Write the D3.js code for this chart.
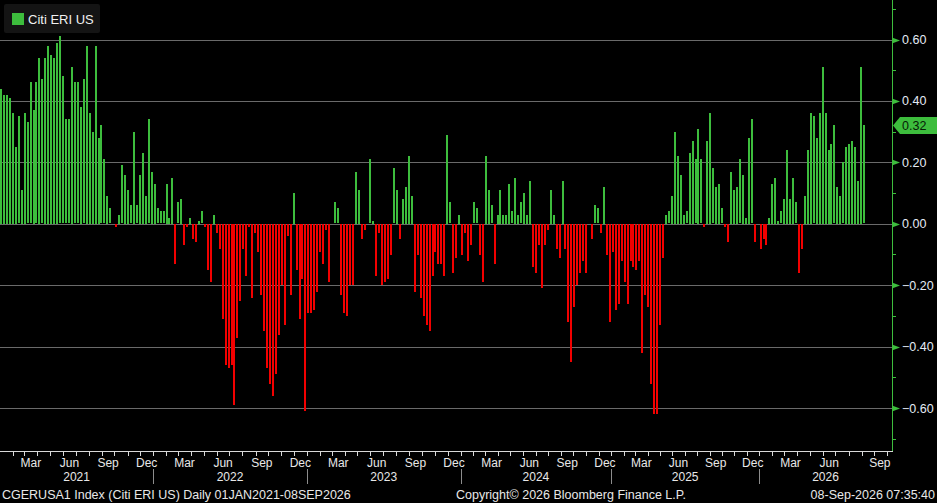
<!DOCTYPE html>
<html>
<head>
<meta charset="utf-8">
<script src="https://cdn.jsdelivr.net/npm/d3@7"></script>
<style>
  body { margin: 0; background: #000; }
  svg text { font-family: "Liberation Sans", Arial, sans-serif; }
</style>
</head>
<body>
<script>

	// Citi Economic Surprise Index US, one reading per week, split by calendar year
	var eri2021 = [0.44, 0.42, 0.42, 0.41, 0.36, 0.25, 0.35, 0.11, 0.36, 0.33, 0.46, 0.37, 0.46,
		0.54, 0.47, 0.54, 0.58, 0.55, 0.54, 0.59, 0.61, 0.48, 0.34, 0.34, 0.51, 0.46, 0.46,
		0.38, 0.47, 0.58, 0.36, 0.30, 0.58, 0.28, 0.32, 0.21, 0.09, 0.05, 0.00, -0.01, 0.03,
		0.19, 0.16, 0.11, 0.06, 0.30, 0.06, 0.16, 0.23, 0.09, 0.34, 0.17];
	var eri2022 = [0.13, 0.05, 0.04, 0.04, 0.13, 0.02, 0.15, -0.13, 0.07, 0.08, -0.07, -0.01, 0.02,
		-0.05, -0.06, 0.01, 0.04, -0.01, -0.15, -0.19, 0.03, -0.03, -0.08, -0.31, -0.46, -0.47,
		-0.46, -0.59, -0.37, -0.25, -0.08, -0.17, -0.01, -0.24, -0.03, -0.09, -0.23, -0.35,
		-0.47, -0.52, -0.56, -0.49, -0.36, -0.20, -0.33, -0.04, -0.23, 0.10, -0.15, -0.31,
		-0.18, -0.61];
	var eri2023 = [-0.29, -0.29, -0.28, -0.22, -0.09, -0.13, -0.02, -0.19, 0.00, 0.07, 0.05, -0.23,
		-0.29, -0.30, -0.20, -0.20, 0.17, 0.11, -0.05, -0.02, 0.00, 0.21, 0.01, -0.17, -0.03,
		-0.20, -0.19, -0.18, -0.10, 0.18, 0.11, -0.05, 0.08, 0.12, 0.22, 0.09, -0.22, -0.10,
		-0.24, -0.30, -0.33, -0.35, -0.17, -0.09, -0.13, -0.13, -0.17, 0.29, 0.07, -0.16,
		-0.11, 0.03];
	var eri2024 = [-0.10, -0.03, -0.12, -0.07, 0.07, 0.05, -0.10, -0.19, 0.22, 0.11, 0.06, -0.13,
		0.03, 0.11, 0.03, 0.03, 0.13, 0.04, 0.15, 0.03, 0.07, 0.10, 0.03, 0.14, -0.14, -0.16,
		-0.07, -0.21, -0.07, -0.02, 0.11, 0.03, -0.08, -0.11, 0.14, -0.08, -0.32, -0.45, -0.27,
		-0.20, -0.16, -0.12, -0.16, 0.00, -0.05, 0.06, 0.05, -0.03, 0.12, -0.10, -0.32];
	var eri2025 = [-0.09, -0.28, -0.26, -0.12, -0.19, -0.26, -0.12, -0.14, -0.15, -0.12, -0.42,
		-0.23, -0.27, -0.52, -0.62, -0.62, -0.33, -0.11, 0.03, 0.04, 0.09, 0.30, 0.22, 0.16,
		0.03, 0.04, 0.23, 0.27, 0.21, 0.31, 0.21, -0.01, 0.27, 0.36, 0.18, 0.12, 0.13, 0.05,
		-0.01, -0.06, 0.17, 0.11, 0.12, 0.21, 0.16, 0.02, 0.28, 0.34, -0.06, 0.00];
	var eri2026 = [-0.08, -0.05, -0.07, 0.02, 0.13, 0.15, 0.01, 0.04, 0.08, 0.24, 0.08, 0.15,
		0.07, -0.16, -0.08, 0.09, 0.24, 0.36, 0.35, 0.28, 0.36, 0.51, 0.36, 0.24, 0.26, 0.32,
		0.12, 0.09, 0.20, 0.25, 0.26, 0.27, 0.25, 0.14, 0.51, 0.32];

	var years = [2021, 2022, 2023, 2024, 2025, 2026];
	var yTicks = [-0.6, -0.4, -0.2, 0, 0.2, 0.4, 0.6];
	var yMinorTicks = [-0.7, -0.5, -0.3, -0.1, 0.1, 0.3, 0.5, 0.7];
	var monthNames = ["Jan", "Feb", "Mar", "Apr", "May", "Jun", "Jul", "Aug", "Sep", "Oct", "Nov", "Dec"];
	var labelledMonths = [2, 5, 8, 11];

	var seriesName = "Citi ERI US";
	var footerLeft = "CGERUSA1 Index (Citi ERI US) Daily 01JAN2021-08SEP2026";
	var footerMid = "Copyright\u00A9 2026 Bloomberg Finance L.P.";
	var footerRight = "08-Sep-2026 07:35:40";

	var green = "#3dbd3d";
	var red = "#f20000";

	var width = 937;
	var height = 503;
	var plotRight = 892;
	var plotBottom = 451;

	var byYear = [eri2021, eri2022, eri2023, eri2024, eri2025, eri2026];
	var values = [].concat.apply([], byYear);

	// first bar index of every year
	var yearStart = [];
	var n = 0;
	byYear.forEach(function(a) { yearStart.push(n); n += a.length; });

	var svg = d3.select("body")
		.append("svg")
		.attr("width", width)
		.attr("height", height);

	// bars are laid out one after another, like the terminal does
	var xBar = d3.scaleLinear()
		.domain([0, values.length - 1])
		.range([0, 863]);
	var pitch = xBar(1) - xBar(0);

	// calendar axis that follows the bars: each year starts where its first bar does
	var tDomain = years.map(function(y) { return new Date(y, 0, 1); });
	var tRange = yearStart.map(function(i) { return xBar(i) - 0.5; });
	tDomain.push(new Date(2027, 0, 1));
	tRange.push(tRange[tRange.length - 1] + 365 * pitch / 7);
	var xTime = d3.scaleTime().domain(tDomain).range(tRange);

	var y = d3.scaleLinear()
		.domain([-0.6, 0.6])
		.range([408, 39.5]);

	// grid
	svg.append("g")
		.selectAll("line")
		.data(yTicks)
		.enter()
		.append("line")
		.attr("x1", 0)
		.attr("x2", plotRight)
		.attr("y1", function(d) { return Math.round(y(d)) + 0.5; })
		.attr("y2", function(d) { return Math.round(y(d)) + 0.5; })
		.attr("stroke", "#6a6a6a");

	// bars
	svg.append("g")
		.attr("shape-rendering", "crispEdges")
		.selectAll("rect")
		.data(values)
		.enter()
		.append("rect")
		.attr("x", function(d, i) { return Math.round(xBar(i)); })
		.attr("width", 2)
		.attr("y", function(d) { return Math.round(Math.min(y(0), y(d))); })
		.attr("height", function(d) { return Math.round(Math.abs(y(d) - y(0))); })
		.attr("fill", function(d) { return d >= 0 ? green : red; });

	// right axis
	var yAxis = svg.append("g");
	yAxis.append("line")
		.attr("x1", plotRight + 0.5).attr("x2", plotRight + 0.5)
		.attr("y1", 0).attr("y2", plotBottom)
		.attr("stroke", green);
	yAxis.selectAll("path.major")
		.data(yTicks)
		.enter()
		.append("path")
		.attr("class", "major")
		.attr("d", function(d) {
			var yy = Math.round(y(d)) + 0.5;
			return "M" + plotRight + "," + (yy - 3) + "L" + (plotRight + 8) + "," + yy + "L" + plotRight + "," + (yy + 3) + "Z";
		})
		.attr("fill", green);
	yAxis.selectAll("line.minor")
		.data(yMinorTicks)
		.enter()
		.append("line")
		.attr("class", "minor")
		.attr("x1", plotRight).attr("x2", plotRight + 4)
		.attr("y1", function(d) { return Math.round(y(d)) + 0.5; })
		.attr("y2", function(d) { return Math.round(y(d)) + 0.5; })
		.attr("stroke", green);
	yAxis.selectAll("text")
		.data(yTicks)
		.enter()
		.append("text")
		.attr("x", plotRight + 10)
		.attr("y", function(d) { return y(d) + 4.5; })
		.attr("font-size", 12.5)
		.attr("fill", "#e4ebf5")
		.text(function(d) { return d3.format(".2f")(d); });

	// last value tag
	var last = values[values.length - 1];
	var ly = Math.round(y(last)) + 0.5;
	svg.append("path")
		.attr("d", "M" + (plotRight + 1) + "," + ly + "L" + (plotRight + 8) + "," + (ly - 8.5) +
			"L" + width + "," + (ly - 8.5) + "L" + width + "," + (ly + 8.5) + "L" + (plotRight + 8) + "," + (ly + 8.5) + "Z")
		.attr("fill", green);
	svg.append("text")
		.attr("x", plotRight + 10)
		.attr("y", ly + 4.5)
		.attr("font-size", 12.5)
		.attr("fill", "#062006")
		.text(d3.format(".2f")(last));

	// bottom axis
	var xAxis = svg.append("g");
	xAxis.append("line")
		.attr("x1", 0).attr("x2", plotRight + 1)
		.attr("y1", plotBottom + 0.5).attr("y2", plotBottom + 0.5)
		.attr("stroke", "#d8d8d8");

	var endDate = xTime.invert(plotRight);
	var months = d3.timeMonth.range(new Date(2021, 0, 1), endDate);

	xAxis.selectAll("line.tick")
		.data(months.filter(function(m) { return xTime(m) > 0; }))
		.enter()
		.append("line")
		.attr("class", "tick")
		.attr("x1", function(d) { return Math.round(xTime(d)) + 0.5; })
		.attr("x2", function(d) { return Math.round(xTime(d)) + 0.5; })
		.attr("y1", plotBottom + 1)
		.attr("y2", plotBottom + 5)
		.attr("stroke", "#d8d8d8");

	var labelMonths = months.filter(function(m) { return labelledMonths.indexOf(m.getMonth()) >= 0; });
	var lastLabel = labelMonths[labelMonths.length - 1];

	xAxis.selectAll("text.month")
		.data(labelMonths)
		.enter()
		.append("text")
		.attr("class", "month")
		.attr("x", function(d) {
			// the final label sits in the space left before the axis
			if (d === lastLabel) return (xTime(d) + plotRight) / 2 + 3;
			return (xTime(d) + xTime(d3.timeMonth.offset(d, 1))) / 2;
		})
		.attr("y", plotBottom + 15.5)
		.attr("text-anchor", "middle")
		.attr("font-size", 12)
		.attr("fill", "#e8e8e8")
		.text(function(d) { return monthNames[d.getMonth()]; });

	xAxis.selectAll("text.year")
		.data(years)
		.enter()
		.append("text")
		.attr("class", "year")
		.attr("x", function(d) {
			var a = Math.max(0, xTime(new Date(d, 0, 1)));
			var b = Math.min(plotRight, xTime(new Date(d + 1, 0, 1)));
			return (a + b) / 2;
		})
		.attr("y", plotBottom + 30)
		.attr("text-anchor", "middle")
		.attr("font-size", 12)
		.attr("fill", "#e8e8e8")
		.text(function(d) { return d; });

	xAxis.selectAll("line.sep")
		.data(years.slice(1))
		.enter()
		.append("line")
		.attr("class", "sep")
		.attr("x1", function(d) { return Math.round(xTime(new Date(d, 0, 1))) + 0.5; })
		.attr("x2", function(d) { return Math.round(xTime(new Date(d, 0, 1))) + 0.5; })
		.attr("y1", plotBottom + 18)
		.attr("y2", plotBottom + 33)
		.attr("stroke", "#8c8c8c");

	// legend
	var legend = svg.append("g");
	legend.append("rect")
		.attr("x", 4).attr("y", 4)
		.attr("width", 96).attr("height", 29)
		.attr("rx", 2)
		.attr("fill", "#141414");
	legend.append("rect")
		.attr("x", 12).attr("y", 13)
		.attr("width", 12).attr("height", 12)
		.attr("fill", green);
	legend.append("text")
		.attr("x", 28).attr("y", 24)
		.attr("font-size", 13)
		.attr("fill", "#f0f0f0")
		.text(seriesName);

	// footer
	var footer = svg.append("g")
		.attr("font-size", 12.5)
		.attr("fill", "#e8e8e8");
	footer.append("text").attr("x", 2).attr("y", 498.5).text(footerLeft);
	footer.append("text").attr("x", 456).attr("y", 498.5).text(footerMid);
	footer.append("text").attr("x", 935).attr("y", 498.5).attr("text-anchor", "end").text(footerRight);

</script>
</body>
</html>
